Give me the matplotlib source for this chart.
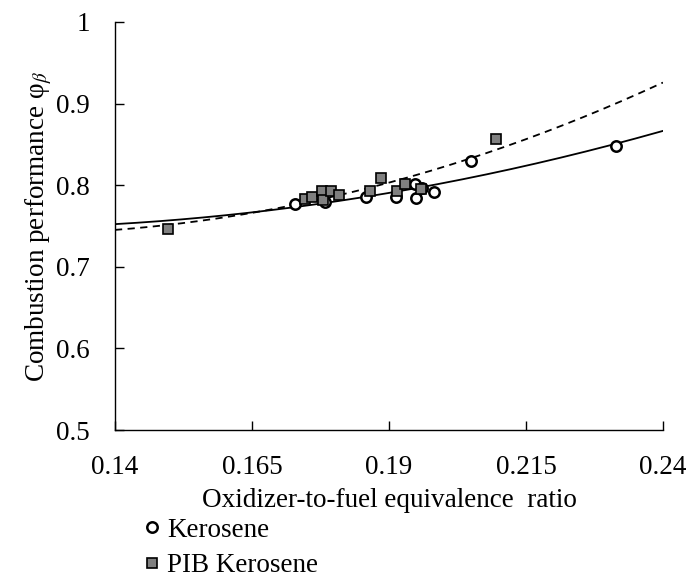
import numpy as np
import matplotlib.pyplot as plt
from matplotlib.ticker import FormatStrFormatter

plt.rcParams['font.family'] = ['Liberation Serif', 'DejaVu Serif']
plt.rcParams['mathtext.fontset'] = 'stix'

# Kerosene data
ker_x = [0.1728, 0.1783, 0.1859, 0.1913, 0.1947, 0.1949, 0.1960, 0.1983, 0.2049, 0.2315]
ker_y = [0.777, 0.779, 0.785, 0.786, 0.802, 0.784, 0.797, 0.792, 0.830, 0.848]

# PIB Kerosene data
pib_x = [0.1497, 0.1747, 0.1759, 0.1778, 0.1780, 0.1795, 0.1808, 0.1865, 0.1885,
         0.1914, 0.1930, 0.1958, 0.2095]
pib_y = [0.746, 0.783, 0.786, 0.793, 0.782, 0.793, 0.788, 0.793, 0.809,
         0.793, 0.801, 0.795, 0.857]

x_ticks = [0.14, 0.165, 0.19, 0.215, 0.24]
y_ticks = [0.5, 0.6, 0.7, 0.8, 0.9, 1.0]

# quadratic trend lines fitted to each series
xx = np.linspace(0.14, 0.24, 200)
ker_fit = np.polyval(np.polyfit(ker_x, ker_y, 2), xx)
pib_fit = np.polyval(np.polyfit(pib_x, pib_y, 2), xx)

fig = plt.figure(figsize=(6.91, 5.78), dpi=100)
ax = fig.add_axes([0.1664, 0.256, 0.793, 0.706])

ax.plot(xx, ker_fit, color='black', lw=1.3)
ax.plot(xx, pib_fit, color='black', lw=1.3, ls=(0, (4, 3)))
ax.plot(ker_x, ker_y, 'o', ms=7.5, mfc='white', mec='black', mew=1.8, label='Kerosene', zorder=3)
ax.plot(pib_x, pib_y, 's', ms=7.5, mfc='#808080', mec='black', mew=1.2, label='PIB Kerosene', zorder=3)

ax.set_xlim(0.14, 0.24)
ax.set_ylim(0.5, 1.0)
ax.set_xticks(x_ticks)
ax.set_yticks(y_ticks)
ax.yaxis.set_major_formatter(FormatStrFormatter('%g'))
ax.xaxis.set_major_formatter(FormatStrFormatter('%g'))
ax.tick_params(direction='in', length=6.5, width=1, labelsize=19.5, pad=18)
for s in ['top', 'right']:
    ax.spines[s].set_visible(False)
for s in ['left', 'bottom']:
    ax.spines[s].set_linewidth(1)

ax.set_xlabel('Oxidizer-to-fuel equivalence  ratio', fontsize=19.5, labelpad=6)
ax.set_ylabel(r'Combustion performance φ$_{\beta}$', fontsize=19.5, labelpad=1.5)

ax.legend(loc='upper left', bbox_to_anchor=(0.2079, 0.104), bbox_transform=fig.transFigure,
          frameon=False, fontsize=19.5, handlelength=0.6, handletextpad=0.27,
          labelspacing=0.38, borderaxespad=0, borderpad=0)

fig.savefig('out.png', dpi=100)
